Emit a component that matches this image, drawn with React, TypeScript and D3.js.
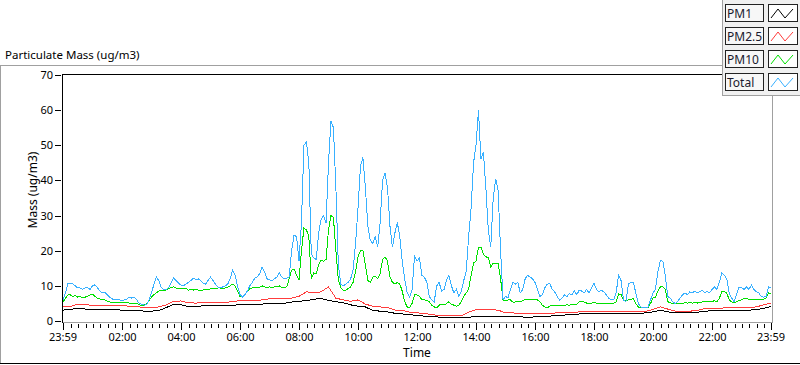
import React from "react";
import * as d3 from "d3";

// one day of particulate readings, starting at 23:59
const start = new Date(2020, 0, 1, 23, 59);
const end = new Date(2020, 0, 2, 23, 59);
const fineStep = 5; // minutes between Total / PM10 samples
const coarseStep = 15; // minutes between PM1 / PM2.5 samples

const seriesNames = ["PM1", "PM2.5", "PM10", "Total"];
const seriesColors = ["#000000", "#ff3c3c", "#00e000", "#38b0ff"];

const totalValues = [
  6, 8, 10.8, 10.8, 10.5, 10, 9.4, 9.4, 9, 9.4, 9.4, 9, 10, 10.3, 9.5, 8.5, 8, 8.2, 7.5, 6.8,
  6.3, 6, 6.2, 6, 5.8, 6, 6.2, 6.8, 6.5, 6.8, 6, 5, 4.8, 4.5, 4.6, 6, 8, 10.5, 12.5, 11.5,
  9.5, 8.8, 9, 9.5, 11, 12.2, 11.5, 10.8, 10.2, 10, 10.5, 11, 11.5, 12.2, 11.8, 12, 11.5, 10.8, 10.5, 11.5,
  12.5, 11.5, 10.5, 9.7, 9.5, 9.7, 10, 10.5, 12, 14.5, 13, 10, 7.5, 6.8, 7.5, 8.5, 10, 11, 12.2, 12.5,
  13.5, 15.4, 14, 12, 11.7, 11.5, 12, 12.5, 13.7, 12.5, 12, 12.2, 12.5, 20, 24.5, 24, 17, 28, 50, 51,
  45, 19, 18, 17.5, 25, 29, 30, 28, 45, 57, 55, 38, 16, 10.5, 10, 10.5, 11, 12, 14.5, 22,
  32, 44, 46.5, 38, 27, 23, 22, 24, 21, 28, 40, 42, 38, 27, 21, 25, 28, 24, 17, 12,
  8, 6.8, 9, 18.5, 17, 18, 13, 12.5, 11, 7, 6, 5.5, 10, 11, 8.5, 9, 11.7, 13, 10, 8,
  9, 7, 8.5, 11.5, 14, 24, 32, 45, 50, 60, 46, 48, 38, 26, 21, 35, 40.5, 37, 20, 6,
  7, 6.5, 9, 11, 10.5, 11, 8, 9, 12, 13, 12.5, 12, 11, 9, 7, 7.5, 9.5, 10.5, 10.7, 9,
  8.3, 7, 6, 6.5, 7.4, 7, 7.8, 7.4, 8.5, 7.5, 8.8, 8.5, 8, 9, 8, 9.5, 10.7, 9, 8.3, 8.8,
  8.3, 7.5, 6.5, 6, 6, 8, 13, 11.5, 6, 5.5, 10.5, 11, 11, 8, 5, 4, 3.8, 3.8, 4, 6,
  8, 9, 14, 17.3, 17, 13, 7, 6.5, 5.5, 5, 5.5, 6.5, 7.5, 8, 7.5, 8.3, 8, 8.5, 8, 8.3,
  8.8, 8, 8.5, 8, 9, 9.7, 9, 11, 13.7, 13, 12, 8, 6.5, 5.5, 7.5, 9.7, 9.5, 9, 9.7, 9,
  10.2, 9, 8.3, 8, 7, 6.8, 7, 9.7, 9.5,
];

const pm10Values = [
  5.4, 6.5, 7.4, 7.4, 7, 7.2, 6.8, 7, 6.6, 6.8, 7, 7.4, 7.6, 7, 6.5, 6.3, 6, 6, 5.6, 5.4,
  5.4, 5.2, 5.4, 5.4, 5.2, 5.2, 5.4, 5.1, 5, 5.1, 5, 4.6, 4.5, 4.5, 4.8, 5.8, 6.8, 7.5, 8, 8.5,
  8.8, 8.6, 8.8, 9.2, 9.5, 9.7, 9.4, 9.2, 9.4, 9.2, 9.4, 8.8, 9, 8.8, 9, 8.8, 8.6, 8.8, 9, 8.8,
  9.2, 9.4, 9.2, 9.4, 9.4, 9.2, 9.4, 9.6, 10, 10.5, 10, 8.5, 7, 6.8, 7.5, 8.5, 9.2, 9.4, 9.6, 9.4,
  9.6, 10, 9.7, 9.5, 9.7, 9.5, 9.7, 9.7, 10, 9.6, 9.5, 9.7, 12, 14.5, 14.8, 13, 11.7, 20, 26.4, 26,
  24, 12, 13.7, 13.5, 16, 17.3, 17, 17.5, 26, 30, 29.5, 20, 11.7, 9.5, 8.8, 8.8, 9.2, 9.7, 11, 14,
  18.3, 20, 20.2, 16, 11.5, 11, 12.5, 12.8, 12, 13.5, 17.5, 18.3, 17, 12.5, 11, 10.5, 11, 10.5, 8.5, 5.5,
  4, 3.8, 5, 7.4, 7.4, 7, 6, 6, 5.8, 5.5, 4.5, 4, 3.8, 4.5, 4.8, 4.5, 5, 5.5, 4.8, 4.5,
  4.2, 4.5, 5.5, 7, 8, 9, 13, 16.5, 17, 21, 21, 19, 18.3, 18, 15.4, 16.5, 16.5, 16.5, 12, 6,
  5.8, 6, 6, 5.4, 5.4, 5.6, 5.4, 5.8, 6.2, 6, 6.2, 6, 6, 6, 5.5, 4.5, 4, 3.8, 4.2, 4.5,
  4.5, 4.3, 4.5, 4.3, 4.5, 4.6, 4.5, 4.8, 4.6, 4.8, 5.4, 5.6, 5.4, 5.1, 5, 5.1, 5.2, 5.1, 5, 5.1,
  5, 5.1, 5, 5.1, 5.1, 5.4, 7.7, 7.5, 6, 5.8, 6, 6.2, 6.3, 5, 4, 3.7, 3.7, 3.7, 3.8, 5,
  6.5, 6.8, 8.5, 9.7, 9.7, 9, 5.5, 5.2, 5, 5, 5.1, 5.1, 5, 5.2, 5.1, 5.2, 5.1, 5.2, 5.1, 5.3,
  5.4, 5.5, 5.4, 5.6, 5.5, 5.8, 5.5, 6.5, 8.3, 8.3, 8, 6, 5.4, 5.2, 5.5, 5.8, 6, 6.5, 6.5, 6.2,
  6, 6, 6.1, 6, 6, 6.2, 6.5, 8, 7.8,
];

const pm25Values = [
  4.1, 4.1, 4.8, 4.6, 4.5, 4.5, 4.4, 4.4, 4.4, 4.2, 4.1, 3.8, 3.7, 4, 4.6, 5.6, 5.7, 5.2, 5.1, 5.2,
  5.2, 5.2, 5.3, 5.5, 5.8, 5.8, 5.8, 6, 6.3, 6.5, 6.3, 6.5, 7, 8.3, 8, 8.3, 9.7, 6.5, 6, 5.6,
  6, 4.8, 4.2, 4, 3.8, 3.1, 3.1, 2.5, 2.3, 2.2, 1.8, 1.6, 1.5, 1.5, 1.5, 2.5, 3.2, 3.4, 3.2, 3.1,
  2.3, 2.3, 2.1, 2.1, 2, 2.1, 2.2, 2.3, 2.3, 2.4, 2.6, 2.6, 2.6, 2.7, 2.6, 2.6, 2.6, 2.6, 2.6, 2.7,
  3.3, 4, 3.4, 2.8, 2.8, 2.8, 3, 3.5, 3.6, 3.6, 3.8, 3.8, 3.8, 3.9, 4, 4.6, 5.1,
];

const pm1Values = [
  3.1, 3.3, 3.6, 3.4, 3.3, 3.3, 3.3, 3.2, 3.1, 3.1, 3.1, 2.8, 2.8, 3, 3.8, 4.8, 4.6, 4.1, 4.2, 4.3,
  4.4, 4.4, 4.4, 4.5, 4.6, 4.6, 4.7, 4.8, 5, 5.1, 5, 5.4, 5.6, 5.8, 6.2, 6.4, 5.9, 5.5, 5.2, 4.6,
  4.2, 4, 3, 2.8, 2.6, 2.2, 2, 1.9, 1.5, 1.4, 1.3, 1.1, 1, 1, 1, 1.1, 1.2, 1.3, 1.2, 1.3,
  1.4, 1.3, 1.2, 1, 1.2, 1.4, 1.4, 1.5, 1.7, 1.9, 2, 2, 2, 2, 2.1, 2.2, 2.2, 2.2, 2.2, 2.3,
  2.6, 3.1, 2.6, 2.4, 2.4, 2.4, 2.5, 2.8, 2.9, 2.9, 3, 3, 3.1, 3.1, 3.2, 3.6, 4.1,
];

const yTicks = [0, 10, 20, 30, 40, 50, 60, 70];

const font = "'Noto Sans', 'DejaVu Sans', sans-serif";

const App = () => {
  const plot = { left: 62, right: 772, top: 74, bottom: 322 };

  const x = d3.scaleTime().domain([start, end]).range([63, 771]);
  const y = d3.scaleLinear().domain([0, 70]).range([321, 75]);

  const majorTicks = [
    start,
    ...d3.timeHour.every(2).range(start, end).filter((d) => d.getHours() !== 0),
    end,
  ];
  const minorTicks = d3.timeMinute
    .every(15)
    .range(start, end)
    .filter((d) => Math.abs(+d - +start) > 120000);
  const fmt = d3.timeFormat("%H:%M");

  const makeLine = (step) =>
    d3
      .line()
      .x((d, i) => x(d3.timeMinute.offset(start, i * step)))
      .y((d) => y(d));

  const series = [
    { values: pm1Values, step: coarseStep },
    { values: pm25Values, step: coarseStep },
    { values: pm10Values, step: fineStep },
    { values: totalValues, step: fineStep },
  ];

  const legendX = 722;

  return (
    <svg
      width={800}
      height={365}
      style={{ position: "absolute", left: 0, top: 0, background: "#fff" }}
      fontFamily={font}
    >
      <defs>
        <clipPath id="plot-clip">
          <rect x={plot.left + 1} y={plot.top + 1} width={plot.right - plot.left - 1} height={plot.bottom - plot.top - 1} />
        </clipPath>
      </defs>

      {/* panel frame */}
      <text x={5} y={59} fontSize={11.5} fill="#000">
        Particulate Mass (ug/m3)
      </text>
      <line x1={0} x2={legendX} y1={65.5} y2={65.5} stroke="#a0a0a0" />
      <line x1={0.5} x2={0.5} y1={65} y2={364} stroke="#a0a0a0" />
      <line x1={0} x2={800} y1={363.5} y2={363.5} stroke="#000" />

      {/* plot area */}
      <rect x={plot.left} y={plot.top} width={plot.right - plot.left} height={plot.bottom - plot.top} fill="#fff" />
      <g clipPath="url(#plot-clip)">
        {series.map((s, i) => (
          <path
            key={seriesNames[i]}
            d={makeLine(s.step)(s.values)}
            fill="none"
            stroke={seriesColors[i]}
            strokeWidth={1}
            shapeRendering="crispEdges"
          />
        ))}
      </g>
      <line x1={plot.left} x2={plot.right} y1={plot.top + 0.5} y2={plot.top + 0.5} stroke="#000" />
      <line x1={plot.left + 0.5} x2={plot.left + 0.5} y1={plot.top} y2={plot.bottom + 1} stroke="#000" />
      <line x1={plot.right + 0.5} x2={plot.right + 0.5} y1={plot.top} y2={plot.bottom + 1} stroke="#a0a0a0" />
      <line x1={plot.left + 1} x2={plot.right + 1} y1={plot.bottom + 0.5} y2={plot.bottom + 0.5} stroke="#a0a0a0" />

      {/* y axis */}
      {yTicks.map((t) => (
        <g key={t}>
          <line x1={55} x2={61} y1={Math.round(y(t)) + 0.5} y2={Math.round(y(t)) + 0.5} stroke="#000" />
          <text x={53} y={y(t) + 4} fontSize={11} textAnchor="end" fill="#000">
            {t}
          </text>
        </g>
      ))}
      <text
        transform={`translate(37,190) rotate(-90)`}
        fontSize={12}
        textAnchor="middle"
        fill="#000"
      >
        Mass (ug/m3)
      </text>

      {/* x axis */}
      {minorTicks.map((t) => (
        <line
          key={+t}
          x1={Math.round(x(t)) + 0.5}
          x2={Math.round(x(t)) + 0.5}
          y1={324}
          y2={328}
          stroke="#000"
        />
      ))}
      {majorTicks.map((t, i) => (
        <g key={i}>
          <line
            x1={Math.round(x(t)) + 0.5}
            x2={Math.round(x(t)) + 0.5}
            y1={323}
            y2={330}
            stroke="#000"
          />
          <text x={x(t)} y={341} fontSize={11} textAnchor="middle" fill="#000">
            {fmt(t)}
          </text>
        </g>
      ))}
      <text x={(plot.left + plot.right) / 2} y={357} fontSize={12} textAnchor="middle" fill="#000">
        Time
      </text>

      {/* legend */}
      <rect x={legendX} y={0} width={800 - legendX} height={95} fill="#f0f0f0" />
      <line x1={legendX + 0.5} x2={legendX + 0.5} y1={0} y2={96} stroke="#a0a0a0" />
      <line x1={legendX} x2={800} y1={95.5} y2={95.5} stroke="#a0a0a0" />
      {seriesNames.map((name, i) => {
        const top = 4 + i * 23;
        const sx = 768;
        return (
          <g key={name}>
            <rect x={725.5} y={top + 0.5} width={38} height={17} fill="#f7f7f7" stroke="#222" />
            <text x={727} y={top + 13.5} fontSize={12} fill="#1a1a2e">
              {name}
            </text>
            <rect x={sx + 0.5} y={top + 0.5} width={29} height={17} fill="#fff" stroke="#222" />
            <polyline
              points={`${sx + 3},${top + 14} ${sx + 10},${top + 5} ${sx + 17},${top + 14} ${sx + 25},${top + 5}`}
              fill="none"
              stroke={seriesColors[i]}
              strokeWidth={1}
            />
          </g>
        );
      })}
    </svg>
  );
};

export default App;
